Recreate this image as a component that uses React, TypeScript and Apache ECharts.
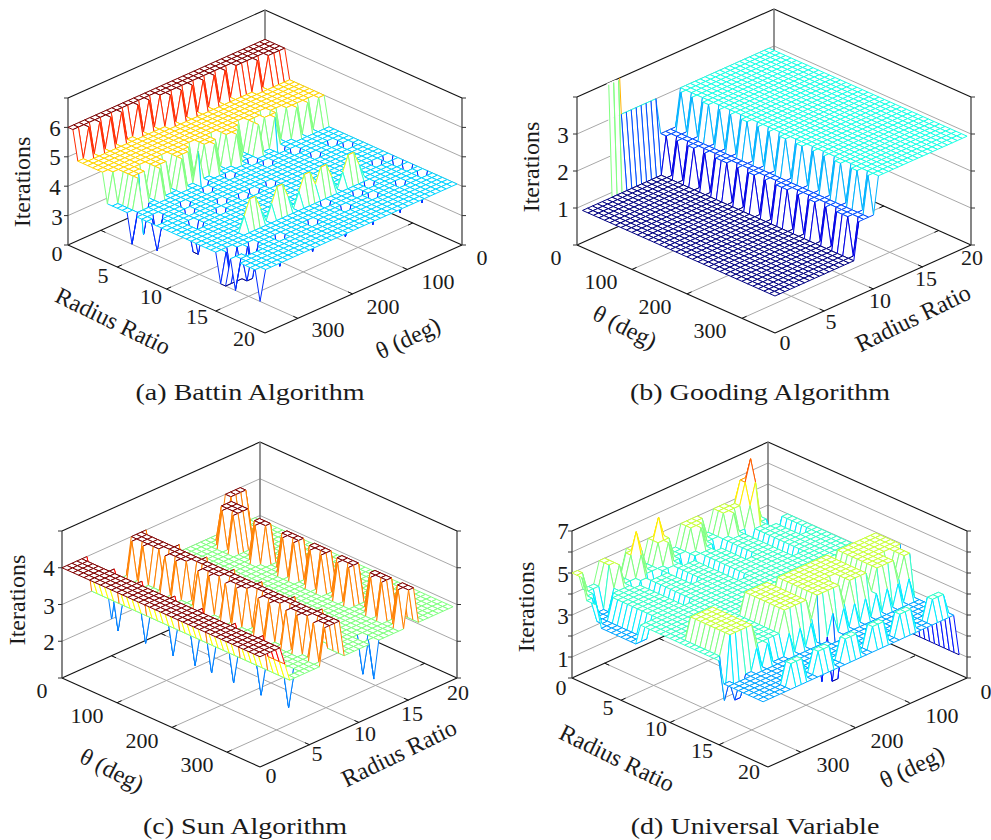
import React, { useEffect, useRef } from "react";
import * as echarts from "echarts";

// Iteration counts. One string per radius step (0.5), one char per theta step (10 deg).
// Digits are values, "g" is 4.5, "h" is 3.5, "." is no value.
// Battin and Universal Variable run theta 360 -> 0 along a row, Gooding and Sun run 0 -> 360.
const r4 = "44444 44444 44444 44444 44444 44444 44444 44";
const r5 = "55555 55555 55555 55555 55555 55555 55555 55";
const r6 = "66666 66666 66666 66666 66666 66666 66666 66";
const battinRows = [
  r6, r6,
  "55656 56565 56565 66666 66666 66666 66666 66",
  "55555 55555 55555 56565 65656 56566 66666 66",
  "55555 55555 55555 55555 55555 55555 56566 66",
  r5, r5, r5,
  "45555 55555 55555 55555 55555 55555 55555 55",
  "44555 55555 55555 55555 55555 55555 55555 55",
  "44555 45554 55554 55545 55545 55455 55555 55",
  "44555 45554 55544 55545 55445 45554 55555 55",
  "44534 45444 54454 45444 54445 44544 45454 55",
  "34444 44444 44434 44444 44344 44344 44444 44",
  "44444 44444 44444 44344 44444 44444 44444 44",
  "44444 44444 44344 44444 44434 44434 44444 44",
  "44344 44344 44444 44444 44444 44444 44444 44",
  "43444 44444 44444 44444 44444 44444 44434 44",
  "44444 43444 44444 44444 44444 44443 44444 44",
  "44444 44444 43444 44444 44444 44444 44443 44",
  "44444 44444 44443 43443 44444 44444 44444 44",
  "44443 44443 44444 44444 44444 44444 44444 44",
  "44443 44444 44444 44444 44444 44444 44444 44",
  r4, r4, r4,
  "44444 44444 44444 44444 44444 44444 44434 34",
  r4,
  "44444 44g55 g4g55 g4g55 g55g4 g55g4 44444 34",
  r4,
  "44444 44444 44444 44444 34444 44434 44444 34",
  "34344 44444 44444 44444 44444 34444 44444 44",
  "33334 34444 44444 44444 44444 44444 44444 44",
  "44433 44443 44444 34444 43444 43444 43444 34",
  "34444 44444 44444 44444 44444 44444 44444 44",
  r4, r4, r4, r4,
  "34444 44444 44444 44444 44444 44444 44444 44",
];

const g1a = ".1111 11111 11111 11111 11111 11111 11111 11";
const g1b = "61111 11111 11111 11111 11111 11111 11111 11";
const g1c = "31111 11111 11111 11111 11111 11111 11111 11";
const g2 = "22222 22222 22222 22222 22222 22222 22222 22";
const g3 = "33333 33333 33333 33333 33333 33333 33333 33";
const goodingRows = [
  g1a, g1a, g1a, g1a, g1a, g1a,
  g1b, g1b, g1b,
  g1c, g1c, g1c, g1c, g1c, g1c, g1c, g1c,
  "2212122121222121221212221212212122212",
  g2, g2,
  "23232 33232 32332 32323 32332 32323 32332 32",
  g3, g3, g3, g3, g3, g3, g3, g3, g3, g3, g3, g3, g3, g3, g3, g3, g3, g3, g3,
];

const s4 = "44444 44444 44444 44444 44444 44444 44444 44";
const s3 = "33333 33333 33333 33333 33333 33333 33333 33";
const sunRows = [
  s4, s4, s4, s4, s4,
  "4hhhh 4hhhh 4hhhh h4hhh h4hhh hh4hh hh4hh hh",
  s3, s3,
  "33323 33323 33323 33233 23332 33332 33332 33",
  s3,
  "23333 33333 33333 33333 33333 33333 33333 33",
  s3, s3,
  "34343 33434 33343 43343 43334 34334 34334 34",
  "44444 43444 43344 44344 44334 44434 44434 44",
  s4, s4,
  "43333 34333 34333 34333 34333 33433 33433 33",
  s3, s3, s3, s3, s3,
  "33333 33333 33333 33333 33333 33333 33332 32",
  s3, s3, s3, s3, s3,
  "33343 43334 33334 34334 34334 34333 43433 43",
  "33444 43344 43344 44344 44344 44334 44434 44",
  "33444 43344 43344 44344 44344 44334 44434 44",
  "33444 43333 33333 33333 33333 33333 33333 33",
  "44333 33333 33333 33333 33333 33333 33333 33",
  "44333 33333 33333 33333 33333 33333 33333 33",
  "44333 33333 33333 33333 33333 33333 33333 33",
  "44333 33333 33333 33333 33333 33333 33333 33",
  s3, s3, s3,
];

const u6 = "33344 44443 44443 44443 44443 44443 44443 44";
const u10 = "33344 44443 44444 44443 44444 44443 44444 44";
const u14 = "44444 44444 44444 44444 44444 44444 44444 44";
const u22 = "44555 55444 44555 55455 55555 55545 55555 55";
const u28 = "44555 55444 44555 55455 55545 55545 55545 51";
const u33 = "33333 33333 33333 33333 33333 33333 33333 31";
const u37 = "33333 34443 34443 34443 34443 34443 33444 31";
const universalRows = [
  "55444 55444 54445 54444 55554 45554 55433 33",
  "55444 55445 55445 65444 55554 45555 66543 33",
  "54433 55445 65445 55444 55544 45555 67543 33",
  "44333 45444 54444 54434 45443 44544 56443 33",
  "43334 44434 43344 44334 44433 44443 44433 44",
  "43344 44443 44443 44443 44443 44443 44443 44",
  u6, u6, u6, u6,
  u10, u10, u10, u10,
  u14, u14, u14, u14, u14, u14, u14, u14,
  u22, u22, u22, u22, u22, u22,
  u28, u28,
  "42555 55444 44555 55455 55545 55545 55545 51",
  "33223 34343 33434 34313 43434 34343 43434 31",
  "33333 33333 33333 33331 13333 33333 33333 31",
  u33, u33, u33, u33,
  u37, u37,
  u33,
];

const radiusTicks = [0, 5, 10, 15, 20];
const thetaTicks = [0, 100, 200, 300];
const battinZTicks = [3, 4, 5, 6];
const goodingZTicks = [1, 2, 3];
const sunZTicks = [2, 3, 4];
const universalZTicks = [1, 2, 3, 4, 5, 6];
const universalZLabels = [1, 3, 5, 7];

const SERIF = '"Liberation Serif", serif';
const ROWS = 40;
const COLS = 37;

type Pt = [number, number];
type Panel = {
  L: Pt; F: Pt; B: Pt; R: Pt; H: number; zMin: number; zMax: number; clim: [number, number];
  rows: string[]; rFront: boolean; zTicks: number[];
  zLabels: number[]; zLabelPos: Pt[];
  rPos: Pt[]; tPos: Pt[];
  iter: Pt; rName: [number, number, number]; tName: [number, number, number];
  caption: string; capPos: Pt;
};

const panels: Panel[] = [
  {
    L: [68, 245], F: [265, 333], B: [265, 157], R: [462, 245], H: 147, zMin: 2, zMax: 7, clim: [3, 6],
    rows: battinRows, rFront: true, zTicks: battinZTicks,
    zLabels: battinZTicks, zLabelPos: [[57, 217], [55, 187], [55, 157], [55, 128]],
    rPos: [[57, 253], [103, 275], [151, 296], [197, 316], [244, 338]],
    tPos: [[482, 257], [438, 281], [383, 306], [328, 329]],
    iter: [22, 182], rName: [113, 321, -26], tName: [408, 338, 25],
    caption: "(a) Battin Algorithm", capPos: [250, 392],
  },
  {
    L: [577, 245], F: [775, 333], B: [774, 157], R: [971, 245], H: 148, zMin: 0, zMax: 4, clim: [1, 6],
    rows: goodingRows, rFront: false, zTicks: goodingZTicks,
    zLabels: goodingZTicks, zLabelPos: [[563, 209], [563, 172], [563, 135]],
    rPos: [[785, 342], [831, 321], [880, 300], [926, 278], [972, 257]],
    tPos: [[556, 257], [601, 281], [655, 306], [710, 330]],
    iter: [531, 167], rName: [913, 318, 26], tName: [625, 327, -27],
    caption: "(b) Gooding Algorithm", capPos: [760, 392],
  },
  {
    L: [62, 678], F: [260, 767], B: [260, 589], R: [457, 678], H: 147, zMin: 1, zMax: 5, clim: [2, 4],
    rows: sunRows, rFront: false, zTicks: sunZTicks,
    zLabels: sunZTicks, zLabelPos: [[49, 642], [49, 606], [49, 568]],
    rPos: [[271, 775], [317, 753], [365, 733], [412, 713], [458, 692]],
    tPos: [[42, 690], [87, 715], [142, 740], [197, 764]],
    iter: [17, 600], rName: [399, 753, 26], tName: [112, 770, -27],
    caption: "(c) Sun Algorithm", capPos: [245, 826],
  },
  {
    L: [572, 678], F: [768, 767], B: [768, 589], R: [967, 678], H: 147, zMin: 0, zMax: 7, clim: [1, 8],
    rows: universalRows, rFront: true, zTicks: universalZTicks,
    zLabels: universalZLabels, zLabelPos: [[563, 659], [563, 616], [563, 574], [563, 531]],
    rPos: [[561, 687], [608, 707], [656, 728], [702, 750], [749, 771]],
    tPos: [[986, 691], [942, 715], [887, 740], [833, 764]],
    iter: [526, 607], rName: [617, 758, -26], tName: [912, 767, 25],
    caption: "(d) Universal Variable", capPos: [755, 826],
  },
];

const parseRows = (rows: string[]) =>
  rows.map((s) => {
    const t = s.replace(/ /g, "");
    return Array.from(t.padEnd(COLS, t[t.length - 1])).map((c) =>
      c === "." ? NaN : c === "g" ? 4.5 : c === "h" ? 3.5 : Number(c)
    );
  });

const clamp01 = (v: number) => Math.max(0, Math.min(1, v));
const jet = (t0: number) => {
  const t = clamp01(t0);
  const ch = (c: number) => Math.round(255 * clamp01(1.5 - Math.abs(4 * t - c)));
  return `rgb(${ch(3)},${ch(2)},${ch(1)})`;
};

function projector(p: Panel) {
  const Ax = p.rFront ? (p.F[0] - p.L[0]) / 40 : (p.B[0] - p.L[0]) / 40;
  const Ay = p.rFront ? (p.F[1] - p.L[1]) / 40 : (p.B[1] - p.L[1]) / 40;
  const Kx = p.rFront ? (p.B[0] - p.L[0]) / 36 : (p.F[0] - p.L[0]) / 36;
  const Ky = p.rFront ? (p.B[1] - p.L[1]) / 36 : (p.F[1] - p.L[1]) / 36;
  const u = p.H / (p.zMax - p.zMin);
  return (a: number, k: number, z: number): Pt => [
    p.L[0] + a * Ax + k * Kx,
    p.L[1] + a * Ay + k * Ky - (z - p.zMin) * u,
  ];
}

function meshSeries(p: Panel) {
  const Z = parseRows(p.rows);
  const P = projector(p);
  const cells: number[][] = [];
  for (let a = 0; a < ROWS - 1; a++) {
    for (let k = 0; k < COLS - 1; k++) {
      const vals = [Z[a][k], Z[a + 1][k], Z[a][k + 1], Z[a + 1][k + 1]];
      if (vals.every((v) => Number.isFinite(v))) cells.push([a, k]);
    }
  }
  cells.sort((c, d) => P(c[0] + 0.5, c[1] + 0.5, p.zMin)[1] - P(d[0] + 0.5, d[1] + 0.5, p.zMin)[1]);
  const col = (z: number) => jet((z - p.clim[0]) / (p.clim[1] - p.clim[0]));
  const LW = 1;
  return {
    type: "custom",
    coordinateSystem: "cartesian2d",
    silent: true,
    clip: false,
    progressive: 0,
    z: 3,
    encode: { x: 0, y: 1 },
    data: cells,
    renderItem: (_: any, api: any) => {
      const a = api.value(0);
      const k = api.value(1);
      const corners = [[a, k], [a + 1, k], [a + 1, k + 1], [a, k + 1]];
      const zs = corners.map(([i, j]) => Z[i][j]);
      const poly = corners.map(([i, j], n) => api.coord(P(i, j, Math.min(zs[n], p.zMax))));
      if (zs.every((v) => v === zs[0])) {
        return { type: "polygon", shape: { points: poly }, style: { fill: "#fff", stroke: col(zs[0]), lineWidth: LW } };
      }
      const children: any[] = [{ type: "polygon", shape: { points: poly }, style: { fill: "#fff", stroke: null } }];
      for (let e = 0; e < 4; e++) {
        const n2 = (e + 1) % 4;
        const [i1, j1] = corners[e];
        const [i2, j2] = corners[n2];
        const z1 = zs[e];
        const z2 = zs[n2];
        let t0 = 0;
        let t1 = 1;
        if (z1 > p.zMax && z2 > p.zMax) continue;
        if (z1 > p.zMax) t0 = (p.zMax - z1) / (z2 - z1);
        if (z2 > p.zMax) t1 = (p.zMax - z1) / (z2 - z1);
        const q1 = api.coord(P(i1 + (i2 - i1) * t0, j1 + (j2 - j1) * t0, z1 + (z2 - z1) * t0));
        const q2 = api.coord(P(i1 + (i2 - i1) * t1, j1 + (j2 - j1) * t1, z1 + (z2 - z1) * t1));
        children.push({
          type: "line",
          shape: { x1: q1[0], y1: q1[1], x2: q2[0], y2: q2[1] },
          style: { stroke: col((z1 + z2) / 2), lineWidth: LW },
        });
      }
      return { type: "group", children };
    },
  };
}

function frameSeries(p: Panel) {
  const P = projector(p);
  const segs: { a: Pt; b: Pt; c: string; w: number }[] = [];
  const add = (a: Pt, b: Pt, c: string, w: number) => segs.push({ a, b, c, w });
  const GRID = "#a8a8a8";
  const rA = (r: number) => r * 2;
  const tK = (t: number) => (p.rFront ? (360 - t) / 10 : t / 10);
  const zb = p.zMin;
  const lift = (q: Pt, z: number): Pt => [q[0], q[1] - ((z - p.zMin) * p.H) / (p.zMax - p.zMin)];
  p.zTicks.forEach((z) => {
    add(lift(p.L, z), lift(p.B, z), GRID, 1);
    add(lift(p.B, z), lift(p.R, z), GRID, 1);
  });
  radiusTicks.slice(1, -1).forEach((r) => add(P(rA(r), 0, zb), P(rA(r), 36, zb), GRID, 1));
  thetaTicks.slice(1).forEach((t) => add(P(0, tK(t), zb), P(40, tK(t), zb), GRID, 1));
  const short = (q: Pt, to: Pt) => {
    const d = Math.hypot(to[0] - q[0], to[1] - q[1]) || 1;
    add(q, [q[0] + ((to[0] - q[0]) / d) * 5, q[1] + ((to[1] - q[1]) / d) * 5], "#111", 1);
  };
  radiusTicks.slice(1, -1).forEach((r) => {
    const q0 = P(rA(r), 0, zb);
    const q1 = P(rA(r), 36, zb);
    short(q0, q1);
    short(q1, q0);
  });
  thetaTicks.slice(1).forEach((t) => {
    const q0 = P(0, tK(t), zb);
    const q1 = P(40, tK(t), zb);
    short(q0, q1);
    short(q1, q0);
  });
  add(p.L, p.F, "#111", 1.1);
  add(p.F, p.R, "#111", 1.1);
  add(p.L, p.B, "#111", 1.1);
  add(p.B, p.R, "#111", 1.1);
  add(lift(p.L, p.zMax), lift(p.B, p.zMax), "#111", 1.1);
  add(lift(p.B, p.zMax), lift(p.R, p.zMax), "#111", 1.1);
  add(lift(p.B, p.zMin), lift(p.B, p.zMax), "#777", 1.6);
  add(lift(p.L, p.zMin), lift(p.L, p.zMax), "#444", 1.3);
  add(lift(p.R, p.zMin), lift(p.R, p.zMax), "#444", 1.3);
  [...p.zTicks, p.zMin, p.zMax].forEach((z) => {
    const l = lift(p.L, z);
    const r = lift(p.R, z);
    add([l[0] - 4, l[1]], l, "#333", 1);
    add(r, [r[0] + 4, r[1]], "#333", 1);
  });
  return {
    type: "custom",
    coordinateSystem: "cartesian2d",
    silent: true,
    clip: false,
    z: 2,
    encode: { x: 0, y: 1 },
    data: segs.map((s, i) => [s.a[0], s.a[1], i]),
    renderItem: (_: any, api: any) => {
      const s = segs[api.value(2)];
      const q1 = api.coord(s.a);
      const q2 = api.coord(s.b);
      return {
        type: "line",
        shape: { x1: q1[0], y1: q1[1], x2: q2[0], y2: q2[1] },
        style: { stroke: s.c, lineWidth: s.w },
      };
    },
  };
}

function panelTexts(p: Panel) {
  const out: any[] = [];
  const txt = (text: string, pos: Pt, size: number, deg = 0, scaleX = 1) =>
    out.push({
      type: "text",
      x: pos[0],
      y: pos[1],
      rotation: (deg * Math.PI) / 180,
      scaleX,
      silent: true,
      z: 10,
      style: { text, font: `${size}px ${SERIF}`, fill: "#1a1a1a", align: "center", verticalAlign: "middle" },
    });
  p.zLabels.forEach((v, i) => txt(String(v), p.zLabelPos[i], 23));
  radiusTicks.forEach((v, i) => txt(String(v), p.rPos[i], 22));
  thetaTicks.forEach((v, i) => txt(String(v), p.tPos[i], 22));
  txt("Iterations", p.iter, 24, Math.PI / 2 * 180 / Math.PI);
  txt("Radius Ratio", [p.rName[0], p.rName[1]], 24, p.rName[2]);
  txt("θ (deg)", [p.tName[0], p.tName[1]], 24, p.tName[2]);
  txt(p.caption, p.capPos, 23, 0, 1.22);
  return out;
}

export default function App() {
  const ref = useRef<HTMLDivElement>(null);
  useEffect(() => {
    document.body.style.margin = "0";
    const chart = echarts.init(ref.current!, undefined, { renderer: "svg" });
    chart.setOption({
      animation: false,
      backgroundColor: "#fff",
      grid: { left: 0, top: 0, right: 0, bottom: 0 },
      xAxis: { type: "value", min: 0, max: 991, show: false },
      yAxis: { type: "value", min: 0, max: 840, inverse: true, show: false },
      graphic: { elements: panels.flatMap(panelTexts) },
      series: panels.flatMap((p) => [frameSeries(p), meshSeries(p)]),
    });
    return () => chart.dispose();
  }, []);
  return <div ref={ref} style={{ width: 991, height: 840 }} />;
}
